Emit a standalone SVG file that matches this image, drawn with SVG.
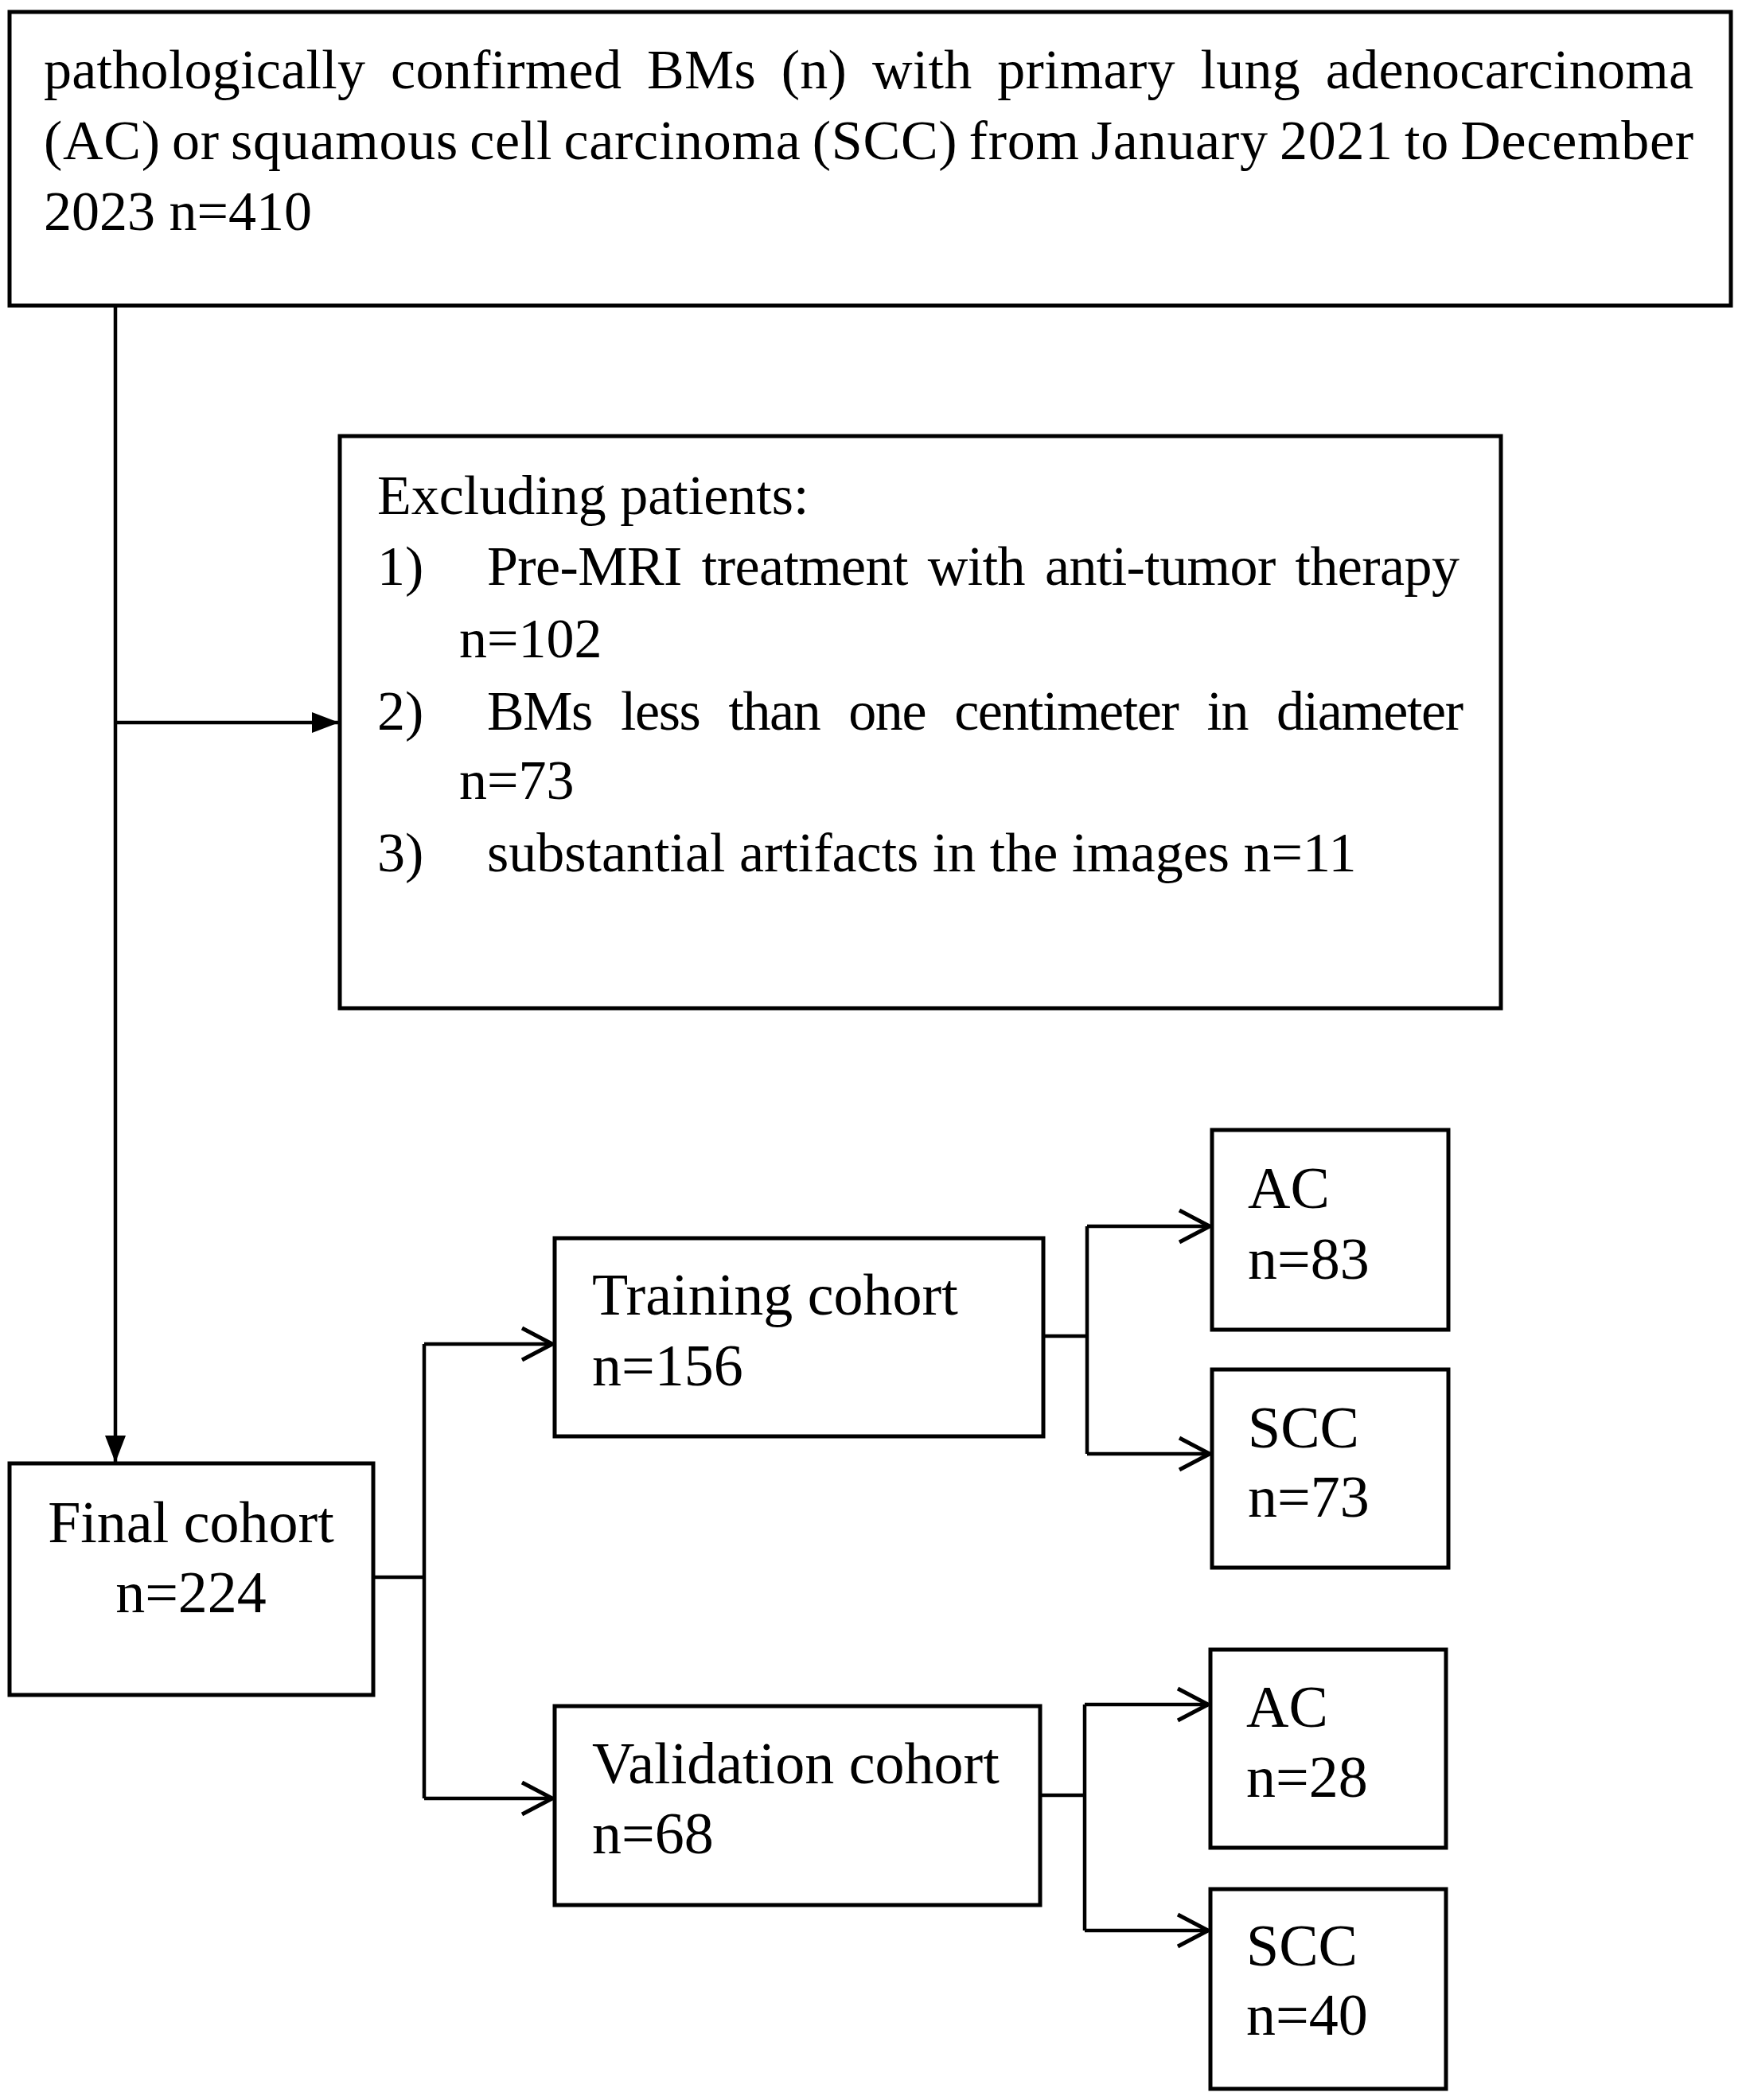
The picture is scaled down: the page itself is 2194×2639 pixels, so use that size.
<svg xmlns="http://www.w3.org/2000/svg" width="2194" height="2639" viewBox="0 0 2194 2639">
<style>
.box{fill:#fff;stroke:#000;stroke-width:5}
.t{font-family:"Liberation Serif","Times New Roman",serif;font-size:70px;fill:#000}
.big{font-size:74px}
.c{fill:none;stroke:#000;stroke-width:4.5}
</style>
<defs>
<marker id="filled" viewBox="0 0 34 26" refX="33" refY="13" markerWidth="34" markerHeight="26" markerUnits="userSpaceOnUse" orient="auto">
<path d="M0,0 L34,13 L0,26 Z" fill="#000"/>
</marker>
<marker id="open" viewBox="0 0 46 46" refX="42" refY="23" markerWidth="46" markerHeight="46" markerUnits="userSpaceOnUse" orient="auto">
<path d="M4,3 L42,23 L4,43" fill="none" stroke="#000" stroke-width="5"/>
</marker>
</defs>
<rect width="2194" height="2639" fill="#fff"/>

<g id="connectors">
<path class="c" d="M145,384 V1837" marker-end="url(#filled)"/>
<path class="c" d="M145,908 H425" marker-end="url(#filled)"/>
<path class="c" d="M469,1982 H533"/>
<path class="c" d="M533,1689 V2260"/>
<path class="c" d="M533,1689 H694" marker-end="url(#open)"/>
<path class="c" d="M533,2260 H694" marker-end="url(#open)"/>
<path class="c" d="M1311,1679 H1366"/>
<path class="c" d="M1366,1541 V1827"/>
<path class="c" d="M1366,1541 H1520" marker-end="url(#open)"/>
<path class="c" d="M1366,1827 H1520" marker-end="url(#open)"/>
<path class="c" d="M1307,2256 H1363"/>
<path class="c" d="M1363,2142 V2426"/>
<path class="c" d="M1363,2142 H1518" marker-end="url(#open)"/>
<path class="c" d="M1363,2426 H1518" marker-end="url(#open)"/>
</g>

<g id="source">
<rect class="box" x="12" y="15" width="2163" height="369"/>
<text class="t" x="55" y="111" font-size="72" textLength="2073" lengthAdjust="spacing" word-spacing="14">pathologically confirmed BMs (n) with primary lung adenocarcinoma</text>
<text class="t" x="55" y="200" font-size="72" textLength="2073" lengthAdjust="spacing" word-spacing="-4">(AC) or squamous cell carcinoma (SCC) from January 2021 to December</text>
<text class="t" x="55" y="289" font-size="72">2023 n=410</text>
</g>

<g id="exclusion">
<rect class="box" x="427" y="548" width="1459" height="719"/>
<text class="t" x="474" y="646" font-size="72">Excluding patients:</text>
<text class="t" x="474" y="735">1)</text>
<text class="t" x="612" y="735" textLength="1222" lengthAdjust="spacing" word-spacing="8">Pre-MRI treatment with anti-tumor therapy</text>
<text class="t" x="577" y="826">n=102</text>
<text class="t" x="474" y="917">2)</text>
<text class="t" x="612" y="917" textLength="1227" lengthAdjust="spacing" word-spacing="20">BMs less than one centimeter in diameter</text>
<text class="t" x="577" y="1004">n=73</text>
<text class="t" x="474" y="1095">3)</text>
<text class="t" x="612" y="1095" font-size="69">substantial artifacts in the images n=11</text>
</g>

<g id="final">
<rect class="box" x="12" y="1839" width="457" height="291"/>
<text class="t big" x="240" y="1938" text-anchor="middle">Final cohort</text>
<text class="t big" x="240" y="2026" text-anchor="middle">n=224</text>
</g>

<g id="training">
<rect class="box" x="697" y="1556" width="614" height="249"/>
<text class="t big" x="744" y="1652">Training cohort</text>
<text class="t big" x="744" y="1741">n=156</text>
</g>

<g id="validation">
<rect class="box" x="697" y="2144" width="610" height="250"/>
<text class="t big" x="744" y="2241">Validation cohort</text>
<text class="t big" x="744" y="2329">n=68</text>
</g>

<g id="train-ac">
<rect class="box" x="1523" y="1420" width="297" height="251"/>
<text class="t big" x="1568" y="1518">AC</text>
<text class="t big" x="1568" y="1607">n=83</text>
</g>

<g id="train-scc">
<rect class="box" x="1523" y="1721" width="297" height="249"/>
<text class="t big" x="1568" y="1819">SCC</text>
<text class="t big" x="1568" y="1906">n=73</text>
</g>

<g id="val-ac">
<rect class="box" x="1521" y="2073" width="296" height="249"/>
<text class="t big" x="1566" y="2170">AC</text>
<text class="t big" x="1566" y="2258">n=28</text>
</g>

<g id="val-scc">
<rect class="box" x="1521" y="2374" width="296" height="251"/>
<text class="t big" x="1566" y="2470">SCC</text>
<text class="t big" x="1566" y="2557">n=40</text>
</g>
</svg>
